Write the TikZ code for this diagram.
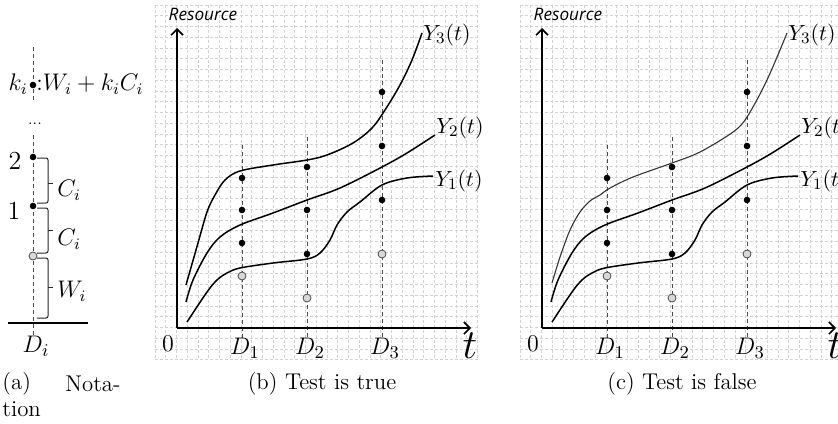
\documentclass[tikz,border=0pt]{standalone}
\usepackage{fontspec}
\newfontfamily\osi{Open Sans}
\usetikzlibrary{arrows.meta}
\tikzset{
  gridl/.style={draw=gray!35, line width=0.35pt, dash pattern=on 1.5pt off 1pt},
  axisl/.style={line width=0.8pt, -{Straight Barb[length=3pt,width=6pt,line width=0.8pt]}},
  vdash/.style={draw=gray!60!black, line width=0.4pt, dash pattern=on 2pt off 1.5pt},
  curve/.style={line width=0.75pt, smooth, tension=0.55},
  bdot/.style={circle, fill=black, inner sep=0pt, minimum size=3.3pt},
  gdot/.style={circle, fill=gray!30, draw=gray!60!black, line width=0.4pt, inner sep=0pt, minimum size=4pt},
  brace/.style={draw=gray!30!black, line width=0.5pt, rounded corners=1pt},
  lab/.style={inner sep=0pt, font=\fontsize{11}{13}\selectfont},
  alab/.style={inner sep=0pt, font=\fontsize{12}{14}\selectfont},
  dlab/.style={inner sep=0pt, font=\fontsize{12.5}{14}\selectfont},
  captxt/.style={inner sep=0pt, font=\fontsize{11.4}{13}\selectfont},
}
\newcommand\panelbody[1]{%
  \foreach \i in {0,...,30} \draw[gridl] ({155+\i*10.75},5) -- ({155+\i*10.75},359.75);
  \foreach \j in {0,...,33} \draw[gridl] (155,{5+\j*10.75}) -- (477.5,{5+\j*10.75});
  \coordinate (#1o) at (177,328);
  \coordinate (#1ytop) at (177,28);
  \coordinate (#1xend) at (471,328);
  \draw[vdash] (242,145) -- (242,338);
  \draw[vdash] (307,137) -- (307,338);
  \draw[vdash] (382,60) -- (382,338);
  \draw[axisl] (#1o) -- (#1ytop);
  \draw[axisl] (#1o) -- (#1xend);
  \node[inner sep=0pt, font=\osi\itshape\fontsize{8.6}{10}\selectfont] (#1res) at (203,14) {Resource};
  \node[inner sep=0pt, font=\fontsize{12}{13}\selectfont] (#1zero) at (168,344) {0};
  \node[inner sep=0pt, font=\fontsize{20}{22}\selectfont] (#1t) at (470,346) {$t$};
  \node[dlab] (#1d1) at (245,348) {$D_1$};
  \node[dlab] (#1d2) at (310,348) {$D_2$};
  \node[dlab] (#1d3) at (385,348) {$D_3$};
  \node[bdot] (#1a1) at (242,178) {};
  \node[bdot] (#1a2) at (242,210) {};
  \node[bdot] (#1a3) at (242,243) {};
  \node[gdot] (#1a4) at (242,276) {};
  \node[bdot] (#1b1) at (307,167) {};
  \node[bdot] (#1b2) at (307,210) {};
  \node[bdot] (#1b3) at (307,254) {};
  \node[gdot] (#1b4) at (307,298) {};
  \node[bdot] (#1c1) at (382,92) {};
  \node[bdot] (#1c2) at (382,146) {};
  \node[bdot] (#1c3) at (382,200) {};
  \node[gdot] (#1c4) at (382,254) {};
  \draw[curve] plot coordinates {(186,302) (193,280) (207,253) (220,237) (240,225) (273,213) (307,200) (340,188) (382,167) (407,153) (435,135)};
  \draw[curve] plot coordinates {(187,322) (207,292) (217,280) (227,273) (240,268) (273,263) (307,259) (320,253) (330,240) (337,225) (347,212) (360,202) (382,185) (407,178) (433,176)};
  \node[lab, anchor=west] (#1y3) at (423,35) {$Y_3(t)$};
  \node[lab, anchor=west] (#1y2) at (436,128) {$Y_2(t)$};
  \node[lab, anchor=west] (#1y1) at (435,181) {$Y_1(t)$};
}
\begin{document}
\begin{tikzpicture}[x=0.5pt, y=-0.5pt]
\useasboundingbox (0,0) rectangle (838,423);
% ---------- panel (a)
\draw[vdash] (33,47) -- (33,102);
\draw[vdash] (33,135) -- (33,338);
\node[inner sep=0pt, font=\fontsize{7}{8}\selectfont] (adots) at (35,124) {...};
\draw[line width=0.6pt] (8,323) -- (88,323);
\node[bdot] (ak) at (33,85) {};
\node[bdot] (a2) at (33,157) {};
\node[bdot] (a1) at (33,206) {};
\node[gdot] (a0) at (33,256) {};
\node[alab, anchor=east] (klab) at (28,84) {$k_i$};
\node[alab, anchor=west] (kexpr) at (36,84) {${:}W_i+k_iC_i$};
\node[alab, font=\fontsize{13}{14}\selectfont] (n2) at (15,161) {2};
\node[alab, font=\fontsize{13}{14}\selectfont] (n1) at (14,211) {1};
\draw[brace] (37,158) -- (48,158) -- (48,203) -- (37,203);
\draw[brace] (48,183) -- (53,183);
\draw[brace] (37,208) -- (48,208) -- (48,253) -- (37,253);
\draw[brace] (48,230) -- (53,230);
\draw[brace] (37,258) -- (48,258) -- (48,318) -- (37,318);
\draw[brace] (48,287) -- (53,287);
\node[alab, anchor=west] (c1) at (57,190) {$C_i$};
\node[alab, anchor=west] (c2) at (57,239) {$C_i$};
\node[alab, anchor=west] (w0) at (57,291) {$W_i$};
\node[dlab] (di) at (36,346) {$D_i$};
\node[captxt, anchor=west] (capa1) at (2,384) {(a)};
\node[captxt, anchor=east] (capa2) at (121,384) {Nota-};
\node[captxt, anchor=west] (capa3) at (2,409) {tion};
% ---------- panel (b)
\panelbody{b}
\draw[curve] plot coordinates {(186,285) (198,243) (207,212) (215,195) (225,180) (240,171) (273,165) (307,160) (327,155) (353,143) (372,128) (385,110) (400,85) (412,60) (422,33)};
\node[captxt] (capb) at (322,384) {(b) Test is true};
% ---------- panel (c)
\begin{scope}[shift={(365,0)}]
\panelbody{c}
\draw[curve, line width=0.55pt, draw=black!80] plot coordinates {(187,283) (195,257) (205,230) (215,212) (225,201) (235,195) (245,188) (268,177) (307,163) (335,152) (368,132) (382,117) (402,80) (422,33)};
\node[captxt] (capc) at (317,384) {(c) Test is false};
\end{scope}
\end{tikzpicture}
\end{document}
